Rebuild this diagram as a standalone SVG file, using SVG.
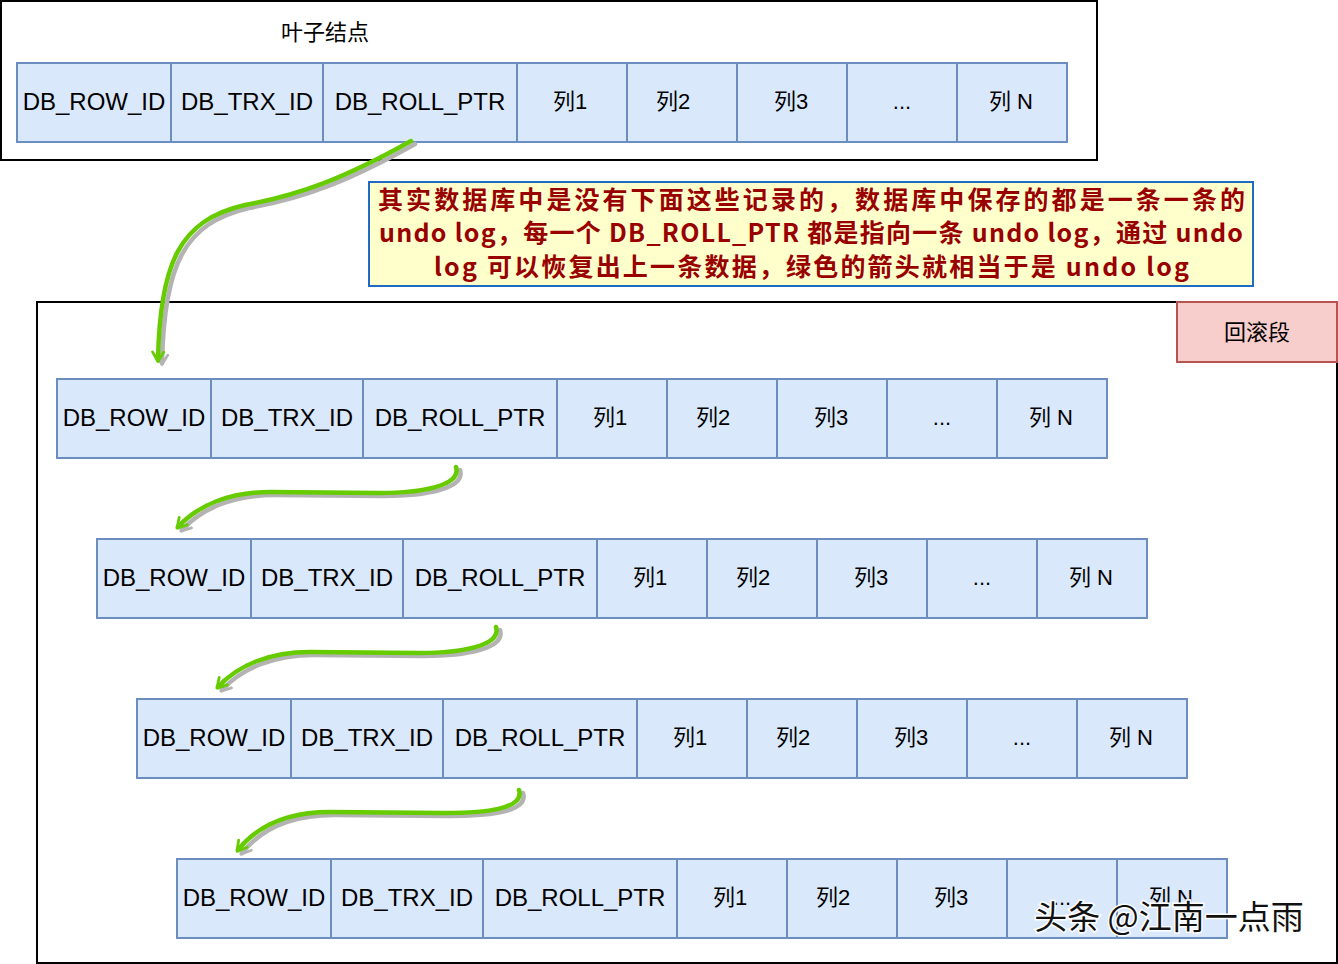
<svg xmlns="http://www.w3.org/2000/svg" width="1338" height="964" viewBox="0 0 1338 964">
<style>
.frame{fill:#fff;stroke:#000;stroke-width:2}
.cell{fill:#dae8fc;stroke:#6c8ebf;stroke-width:2}
.ct{font-family:"Liberation Sans","Noto Sans CJK SC",sans-serif;font-size:22px;fill:#000;text-anchor:middle}
.ct2{font-family:"Liberation Sans","Noto Sans CJK SC",sans-serif;font-size:24px;fill:#000;text-anchor:middle}
.lbl{font-family:"Noto Sans CJK SC",sans-serif;font-size:22px;fill:#000;text-anchor:middle}
.note{fill:#ffffcc;stroke:#1f6bc1;stroke-width:2}
.nt{font-family:"Noto Sans CJK SC",sans-serif;font-size:25px;font-weight:bold;fill:#990000}
.arr{fill:none;stroke:#66cc00;stroke-width:4.5;stroke-linecap:round;stroke-linejoin:round}
.sh{fill:none;stroke:#b3b3b3;stroke-width:4.5;stroke-linecap:round;stroke-linejoin:round}
.wm{font-family:"Noto Sans CJK SC",sans-serif;font-size:33px;fill:#111;stroke:#fff;stroke-width:3;paint-order:stroke;text-anchor:middle}
</style>
<defs>
<g id="row">
<rect class="cell" x="0" y="0" width="154" height="79"/>
<rect class="cell" x="154" y="0" width="152" height="79"/>
<rect class="cell" x="306" y="0" width="194" height="79"/>
<rect class="cell" x="500" y="0" width="110" height="79"/>
<rect class="cell" x="610" y="0" width="110" height="79"/>
<rect class="cell" x="720" y="0" width="110" height="79"/>
<rect class="cell" x="830" y="0" width="110" height="79"/>
<rect class="cell" x="940" y="0" width="110" height="79"/>
<text class="ct2" x="77" y="47">DB_ROW_ID</text>
<text class="ct2" x="230" y="47">DB_TRX_ID</text>
<text class="ct2" x="403" y="47">DB_ROLL_PTR</text>
<text class="ct" x="553" y="46">列1</text>
<text class="ct" x="656" y="46">列2</text>
<text class="ct" x="774" y="46">列3</text>
<text class="ct" x="885" y="46">...</text>
<text class="ct" x="994" y="46">列 N</text>
</g>
<marker id="hg" viewBox="0 0 20 20" refX="12" refY="10" markerWidth="16" markerHeight="16" markerUnits="userSpaceOnUse" orient="auto">
<path d="M2,3 L14,10 L2,17" fill="none" stroke="#66cc00" stroke-width="3.5" stroke-linejoin="round" stroke-linecap="round"/>
</marker>
<marker id="hs" viewBox="0 0 20 20" refX="12" refY="10" markerWidth="16" markerHeight="16" markerUnits="userSpaceOnUse" orient="auto">
<path d="M2,3 L14,10 L2,17" fill="none" stroke="#b3b3b3" stroke-width="3.5" stroke-linejoin="round" stroke-linecap="round"/>
</marker>
</defs>

<g id="leaf-node">
<rect class="frame" x="1" y="1" width="1096" height="159"/>
<text class="lbl" x="325" y="40">叶子结点</text>
<use href="#row" x="17" y="63"/>
</g>

<g id="rollback-segment">
<rect class="frame" x="37" y="302" width="1300" height="661"/>
<rect x="1177" y="302" width="160" height="60" fill="#f8cecc" stroke="#b85450" stroke-width="2"/>
<text class="lbl" x="1257" y="340">回滚段</text>
</g>

<g id="row-1"><use href="#row" x="57" y="379"/></g>
<g id="row-2"><use href="#row" x="97" y="539"/></g>
<g id="row-3"><use href="#row" x="137" y="699"/></g>
<g id="row-4"><use href="#row" x="177" y="859"/></g>

<g id="note">
<rect class="note" x="369" y="182" width="884" height="104"/>
<text class="nt" x="378" y="209" textLength="867" lengthAdjust="spacing">其实数据库中是没有下面这些记录的，数据库中保存的都是一条一条的</text>
<text class="nt" x="379" y="242" textLength="864" lengthAdjust="spacing">undo log，每一个 DB_ROLL_PTR 都是指向一条 undo log，通过 undo</text>
<text class="nt" x="434" y="276" textLength="755" lengthAdjust="spacing">log 可以恢复出上一条数据，绿色的箭头就相当于是 undo log</text>
</g>

<g id="connectors">
<path class="sh" transform="translate(4,3)" marker-end="url(#hs)" d="M411 141 C 345 178, 300 195, 245 205 C 180 220, 160 262, 158 360"/>
<path class="arr" marker-end="url(#hg)" d="M411 141 C 345 178, 300 195, 245 205 C 180 220, 160 262, 158 360"/>
<path class="sh" transform="translate(4,3)" marker-end="url(#hs)" d="M456 467 C 462 486, 420 493, 380 493 L 270 492 C 230 492, 198 505, 178 527"/>
<path class="arr" marker-end="url(#hg)" d="M456 467 C 462 486, 420 493, 380 493 L 270 492 C 230 492, 198 505, 178 527"/>
<path class="sh" transform="translate(4,3)" marker-end="url(#hs)" d="M496 627 C 502 646, 460 653, 420 653 L 310 652 C 270 652, 238 665, 218 687"/>
<path class="arr" marker-end="url(#hg)" d="M496 627 C 502 646, 460 653, 420 653 L 310 652 C 270 652, 238 665, 218 687"/>
<path class="sh" transform="translate(4,3)" marker-end="url(#hs)" d="M519 790 C 525 809, 485 813, 445 813 L 330 812 C 290 812, 258 825, 238 850"/>
<path class="arr" marker-end="url(#hg)" d="M519 790 C 525 809, 485 813, 445 813 L 330 812 C 290 812, 258 825, 238 850"/>
</g>

<text class="wm" x="1169" y="929">头条 @江南一点雨</text>
</svg>
